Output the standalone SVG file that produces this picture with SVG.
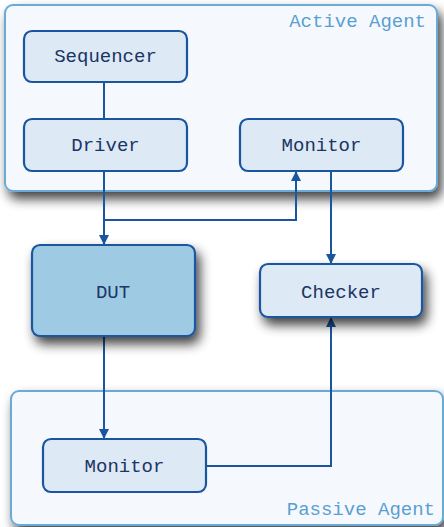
<svg xmlns="http://www.w3.org/2000/svg" width="444" height="527" viewBox="0 0 444 527">
<defs>
<filter id="sh" x="-20%" y="-20%" width="150%" height="170%">
<feGaussianBlur in="SourceAlpha" stdDeviation="6"/>
<feOffset dx="4" dy="7" result="b"/>
<feComponentTransfer><feFuncA type="linear" slope="0.75"/></feComponentTransfer>
<feMerge><feMergeNode/><feMergeNode in="SourceGraphic"/></feMerge>
</filter>
<marker id="ah" viewBox="0 0 10 10" refX="9" refY="5" markerWidth="10" markerHeight="10" markerUnits="userSpaceOnUse" orient="auto">
<path d="M0,0 L10,5 L0,10 z" fill="#1a56a0"/>
</marker>
<style>
.cont{fill:#f5f9fe;stroke:#6aaad6;stroke-width:2}
.node{fill:#dde9f5;stroke:#1a56a0;stroke-width:2.2}
.dut{fill:#9ecbe3;stroke:#1a56a0;stroke-width:2.2}
.lbl{font-family:"Liberation Mono","Courier New",monospace;font-size:19px;fill:#1a3566;text-anchor:middle}
.clbl{font-family:"Liberation Mono","Courier New",monospace;font-size:19px;fill:#5a9fd0;text-anchor:end}
.edge{fill:none;stroke:#1a56a0;stroke-width:2}
</style>
</defs>
<rect width="444" height="527" fill="#ffffff"/>
<g id="active-agent">
<rect class="cont" x="5" y="5" width="432" height="186" rx="8" filter="url(#sh)"/>
<text class="clbl" x="426" y="27">Active Agent</text>
</g>
<g id="passive-agent">
<rect class="cont" x="11" y="391" width="432" height="134" rx="8" filter="url(#sh)"/>
<text class="clbl" x="435" y="515">Passive Agent</text>
</g>
<g id="connectors">
<path class="edge" d="M104,82 V119"/>
<path class="edge" d="M104,171 V244" marker-end="url(#ah)"/>
<path class="edge" d="M104,220 H296 V172" marker-end="url(#ah)"/>
<path class="edge" d="M331,171 V263" marker-end="url(#ah)"/>
<path class="edge" d="M104,336 V438" marker-end="url(#ah)"/>
<path class="edge" d="M206,466 H331 V318" marker-end="url(#ah)"/>
</g>
<g id="sequencer">
<rect class="node" x="24" y="31" width="163" height="51" rx="8"/>
<text class="lbl" x="105.5" y="62">Sequencer</text>
</g>
<g id="driver">
<rect class="node" x="24" y="119" width="163" height="52" rx="8"/>
<text class="lbl" x="105.5" y="151">Driver</text>
</g>
<g id="monitor-active">
<rect class="node" x="240" y="119" width="163" height="52" rx="8"/>
<text class="lbl" x="321.5" y="151">Monitor</text>
</g>
<g id="dut">
<rect class="dut" x="32" y="245" width="163" height="91" rx="8" filter="url(#sh)"/>
<text class="lbl" x="113" y="298">DUT</text>
</g>
<g id="checker">
<rect class="node" x="260" y="264" width="162" height="53" rx="8" filter="url(#sh)"/>
<text class="lbl" x="341" y="298">Checker</text>
</g>
<g id="monitor-passive">
<rect class="node" x="43" y="439" width="163" height="53" rx="8"/>
<text class="lbl" x="124.5" y="472">Monitor</text>
</g>
</svg>
